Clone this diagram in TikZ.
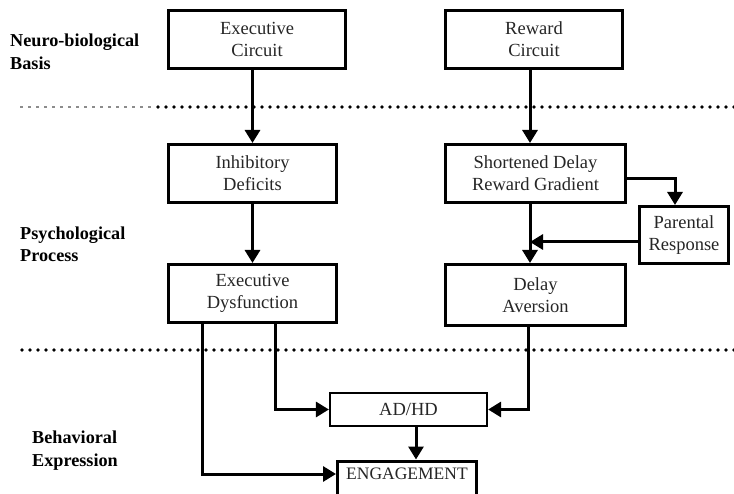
\documentclass[tikz,border=0pt]{standalone}
\usepackage{fontspec}
\setmainfont{Liberation Serif}
\usetikzlibrary{arrows.meta,calc}
\begin{document}
\begin{tikzpicture}[x=1pt,y=-1pt,
  box/.style={draw=black,line width=3pt,fill=white,inner sep=0pt,align=center,
    font=\fontsize{18.5}{22}\selectfont,text=black!85},
  lbl/.style={anchor=west,align=left,inner sep=0pt,font=\fontsize{18.2}{22.5}\selectfont\bfseries},
  arr/.style={line width=3pt,-{Triangle[width=15pt,length=13pt]}},
  dotline/.style={line width=3.8pt,line cap=round,dash pattern=on 0pt off 8pt}]
\useasboundingbox (0,0) rectangle (734,494);
% separators
\draw[line width=2pt,black!45,dash pattern=on 3pt off 5pt] (20,107) -- (155,107);
\draw[dotline] (158,107) -- (734,107);
\draw[dotline] (22,350) -- (734,350);
% level labels
\node[lbl] (l1) at (10,52) {Neuro-biological\\Basis};
\node[lbl] (l2) at (20,244.5) {Psychological\\Process};
\node[lbl] (l3) at (32,450.5) {Behavioral\\Expression};
% boxes
\node[box,minimum width=177pt,minimum height=58pt] (ec) at (257,39.5) {Executive\\Circuit};
\node[box,minimum width=177pt,minimum height=58pt] (rc) at (534,39.5) {Reward\\Circuit};
\node[box,minimum width=168pt,minimum height=58pt] (id) at (252.5,173.5) {Inhibitory\\Deficits};
\node[box,minimum width=168pt,minimum height=58pt] (edys) at (252.5,293.5) {Executive\\Dysfunction};
\node[box,minimum width=180pt,minimum height=58pt] (sd) at (535.5,173.5) {Shortened Delay\\Reward Gradient};
\node[box,minimum width=89pt,minimum height=57pt] (pr) at (684,235) {Parental\\Response};
\node[box,minimum width=180pt,minimum height=61pt] (da) at (535.5,295) {Delay\\Aversion};
\node[box,line width=2.2pt,minimum width=157pt,minimum height=33pt] (ad) at (408.5,409.5) {AD/HD};
\node[box,minimum width=139pt,minimum height=36pt,anchor=north] (eng) at (407,459.5) {};
\node[font=\fontsize{17.5}{22}\selectfont,text=black!85,inner sep=0pt] (engt) at (eng.center |- 0,474) {ENGAGEMENT};
% connectors
\draw[arr] (ec.south -| id.north) -- (id.north);
\draw[arr] (id.south) -- (edys.north);
\draw[arr] ([xshift=-4pt]rc.south) -- ([xshift=-5.5pt]sd.north);
\draw[arr] ([xshift=-5.5pt]sd.south) -- ([xshift=-5.5pt]da.north);
\draw[arr] ([yshift=-5.5pt]sd.east) -| ([xshift=-9pt]pr.north);
\coordinate (spine) at ($([xshift=-5.5pt]sd.south)!0.5!([xshift=-5.5pt]da.north)$);
\draw[arr] ([yshift=-7pt]pr.west) -- ([yshift=-7pt]pr.west -| spine);
\draw[arr] ([xshift=22.5pt]edys.south) |- (ad.west);
\draw[arr] ([xshift=-50.5pt]edys.south) |- (eng.west |- engt);
\draw[arr] ([xshift=-7.5pt]da.south) |- (ad.east);
\draw[arr] ([xshift=7.5pt]ad.south) -- ([xshift=7.5pt]ad.south |- eng.north);
\end{tikzpicture}
\end{document}
